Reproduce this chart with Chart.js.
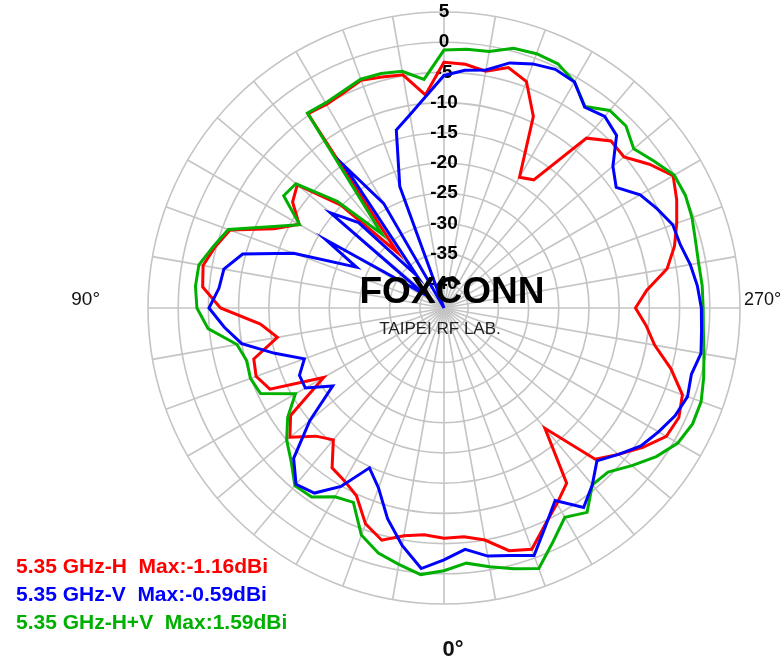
<!DOCTYPE html>
<html>
<head>
<meta charset="utf-8">
<script src="https://cdn.jsdelivr.net/npm/chart.js@4.4.1/dist/chart.umd.min.js"></script>
<style>
  html, body { margin: 0; padding: 0; background: #fff; }
  canvas { display: block; }
</style>
</head>
<body>
<canvas id="pattern" width="783" height="662"></canvas>
<script>
// sample angles in degrees, 0 = bottom, growing clockwise (90 left, 270 right)
const angles = [
  0, 5, 10, 15, 20, 25, 30, 35, 40, 45, 50, 55,
  60, 65, 70, 75, 80, 85, 90, 95, 100, 105, 110, 115,
  120, 125, 130, 135, 140, 145, 150, 155, 160, 165, 170, 175,
  180, 185, 190, 195, 200, 205, 210, 215, 220, 225, 230, 235,
  240, 245, 250, 255, 260, 265, 270, 275, 280, 285, 290, 295,
  300, 305, 310, 315, 320, 325, 330, 335, 340, 345, 350, 355
];

// gain in dBi
const gainH = [
  -5.9, -6.3, -5.7, -4.2, -6.0, -9.7, -11.0, -11.7, -15.5, -14.0, -10.7, -13.0,
  -21.0, -12.2, -10.9, -11.4, -16.0, -13.5, -7.0, -3.9, -3.5, -4.8, -6.3, -13.0,
  -16.3, -13.4, -12.3, -20.0, -32.0, -4.7, -5.1, -4.7, -3.9, -4.4, -4.8, -8.6,
  -3.3, -3.5, -4.2, -2.8, -4.1, -9.0, -19.0, -18.1, -7.3, -4.9, -5.1, -2.5,
  -0.2, -1.5, -3.0, -4.5, -6.5, -10.3, -12.3, -10.4, -8.6, -5.1, -2.0, -1.1,
  -1.5, -3.8, -6.3, -8.6, -18.0, -8.6, -6.6, -4.4, -1.5, -2.4, -5.0, -6.0
];
const gainV = [
  -2.3, -0.7, -4.1, -7.9, -12.3, -14.8, -9.9, -6.6, -5.9, -8.8, -15.0, -21.5,
  -17.5, -17.6, -19.4, -15.0, -10.0, -7.5, -5.1, -6.6, -7.0, -9.5, -17.5, -28.0,
  -21.5, -40.0, -19.5, -24.0, -37.0, -15.3, -24.0, -44.0, -22.6, -13.5, -11.5, -8.9,
  -5.5, -4.5, -4.0, -2.0, -1.0, -0.4, -0.8, -3.4, -2.6, -3.6, -7.5, -9.2,
  -6.5, -5.1, -3.7, -3.5, -2.6, -1.9, -1.4, -1.2, -0.8, -1.6, -1.1, -1.8,
  -3.0, -4.2, -6.3, -8.2, -5.8, -3.7, -7.2, -4.2, -0.4, -1.6, -2.3, -3.9
];
const gainHV = [
  -0.5, 0.3, -0.9, -2.0, -4.0, -8.5, -7.9, -5.8, -5.6, -8.2, -10.0, -12.4,
  -15.6, -10.5, -9.9, -10.2, -9.2, -4.8, -3.1, -2.7, -2.8, -4.5, -6.0, -12.2,
  -16.4, -11.6, -12.0, -19.0, -28.0, -4.6, -4.8, -4.4, -3.7, -3.8, -4.2, -6.0,
  -1.3, -1.0, -0.9, 0.5, 0.8, 0.6, -0.8, -3.3, -1.3, -1.4, -3.0, -1.6,
  0.0, 0.1, -0.3, -0.9, -1.2, -1.1, -1.1, -0.9, -0.3, 0.5, 1.3, 1.4,
  0.7, -1.1, -3.4, -5.6, -5.8, -2.7, -4.0, -1.3, 1.9, 0.7, -0.5, -1.6
];

const seriesNames = [
  '5.35 GHz-H  Max:-1.16dBi',
  '5.35 GHz-V  Max:-0.59dBi',
  '5.35 GHz-H+V  Max:1.59dBi'
];
const seriesColors = ['#ff0000', '#0000ff', '#00b000'];

const radialTicks = [-40, -35, -30, -25, -20, -15, -10, -5, 0, 5];
const angleMarks = [0, 90, 270];
const watermark = ['FOXCONN', 'TAIPEI RF LAB.'];

// the radar scale starts at the top, so begin the lists at 180 deg
const startIdx = angles.indexOf(180);
function fromTop(arr) {
  return arr.slice(startIdx).concat(arr.slice(0, startIdx));
}
const labels = fromTop(angles);

const FONT = '"Liberation Sans", Arial, sans-serif';

const textLayer = {
  id: 'textLayer',
  afterDatasetsDraw(chart) {
    const r = chart.scales.r;
    const ctx = chart.ctx;
    ctx.save();
    ctx.fillStyle = '#000';
    ctx.textAlign = 'center';
    ctx.textBaseline = 'middle';
    ctx.font = 'bold 37px ' + FONT;
    ctx.fillText(watermark[0], r.xCenter + 8, r.yCenter - 15);
    ctx.fillStyle = '#222';
    ctx.font = '17px ' + FONT;
    ctx.fillText(watermark[1], r.xCenter - 4, r.yCenter + 21);

    // angle captions
    ctx.fillStyle = '#111';
    angleMarks.forEach(a => {
      const i = labels.indexOf(a);
      if (a === 0) {
        const p = r.getPointPosition(i, r.drawingArea + 46);
        ctx.font = 'bold 22px ' + FONT;
        ctx.textAlign = 'center';
        ctx.fillText(a + '°', p.x + 9, p.y);
      } else if (a === 90) {
        const p = r.getPointPosition(i, r.drawingArea + 48);
        ctx.font = '19px ' + FONT;
        ctx.textAlign = 'right';
        ctx.fillText(a + '°', p.x, p.y - 8);
      } else {
        const p = r.getPointPosition(i, r.drawingArea + 4);
        ctx.font = '18px ' + FONT;
        ctx.textAlign = 'left';
        ctx.fillText(a + '°', p.x, p.y - 8);
      }
    });

    // legend lines, bottom left
    ctx.textAlign = 'left';
    ctx.font = 'bold 21px ' + FONT;
    seriesNames.forEach((name, k) => {
      ctx.fillStyle = seriesColors[k];
      ctx.fillText(name, 16, 567 + k * 28);
    });
    ctx.restore();
  }
};

const ctx = document.getElementById('pattern').getContext('2d');
new Chart(ctx, {
  type: 'radar',
  data: {
    labels: labels,
    datasets: [
      { label: seriesNames[0], data: fromTop(gainH), borderColor: seriesColors[0], order: 3 },
      { label: seriesNames[1], data: fromTop(gainV), borderColor: seriesColors[1], order: 1 },
      { label: seriesNames[2], data: fromTop(gainHV), borderColor: seriesColors[2], order: 2 }
    ]
  },
  options: {
    responsive: false,
    animation: false,
    layout: { padding: { left: 137, right: 31, top: 1, bottom: 46 } },
    elements: {
      line: { borderWidth: 3, tension: 0, fill: false },
      point: { radius: 0, hoverRadius: 0 }
    },
    plugins: {
      legend: { display: false },
      tooltip: { enabled: false }
    },
    scales: {
      r: {
        min: -44,
        max: 5,
        startAngle: 0,
        afterBuildTicks: (scale) => {
          scale.ticks = radialTicks.map(v => ({ value: v }));
        },
        grid: { circular: true, color: '#c4c4c4', lineWidth: 1.6 },
        angleLines: {
          color: '#c4c4c4',
          lineWidth: (c) => (c.index % 2 === 0 ? 1.6 : 0)
        },
        pointLabels: { display: false },
        ticks: {
          showLabelBackdrop: false,
          color: '#000',
          font: { family: FONT, size: 19, weight: 'bold' },
          callback: (v) => String(v)
        }
      }
    }
  },
  plugins: [textLayer]
});
</script>
</body>
</html>
